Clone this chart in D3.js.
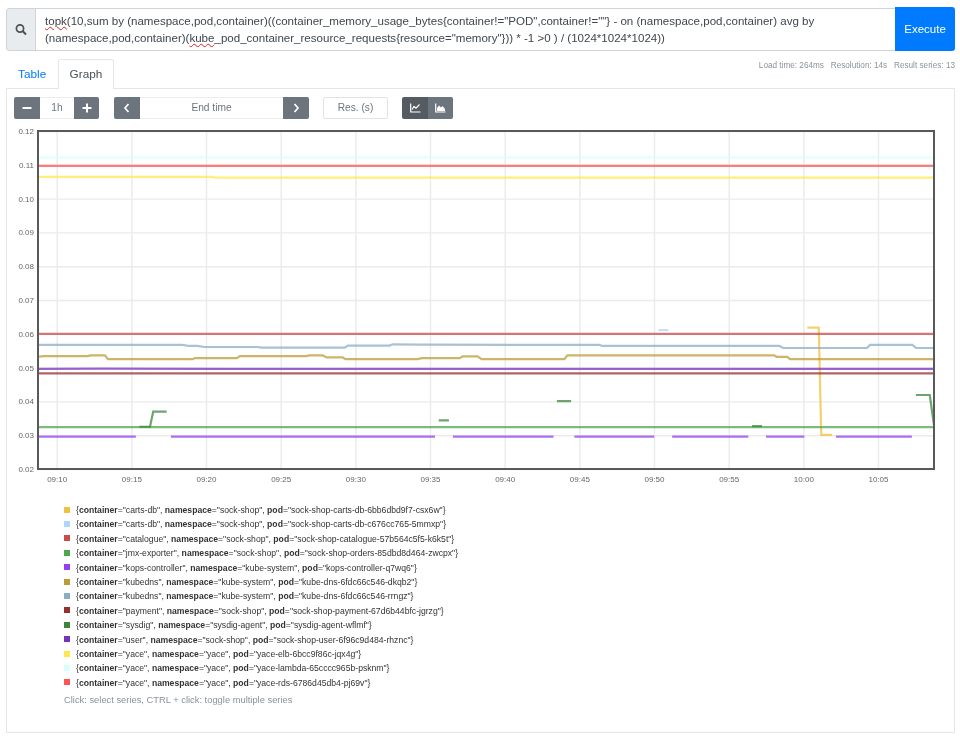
<!DOCTYPE html>
<html>
<head>
<meta charset="utf-8">
<script src="https://cdnjs.cloudflare.com/ajax/libs/d3/7.8.5/d3.min.js"></script>
<style>
  html, body { margin: 0; padding: 0; background: #fff; }
  body { width: 960px; height: 737px; overflow: hidden; position: relative; font-family: "Liberation Sans", sans-serif; filter: blur(0.3px); }
  .box { position: absolute; box-sizing: border-box; }
  .query { left: 35px; top: 8px; width: 861px; height: 43px; border: 1px solid #ced4da; border-left: 0; padding: 3.5px 0 0 10px; font-size: 11.55px; line-height: 17px; color: #3f464d; white-space: nowrap; }
  .query u { text-decoration: underline wavy #e02020 1px; text-underline-offset: 1px; }
  .btn { display: flex; align-items: center; justify-content: center; color: #fff; background: #6c757d; }
  .field { display: flex; align-items: center; justify-content: center; color: #6c757d; font-size: 10.2px; background: #fff; }
  .status { right: 5px; top: 61px; font-size: 8.2px; color: #8a9299; white-space: pre; }
  .legend { left: 63px; top: 503px; font-size: 8.64px; color: #333; }
  .legend div { height: 14.42px; line-height: 14.42px; white-space: pre; position: relative; padding-left: 13px; }
  .legend i { position: absolute; left: 1px; top: 3.6px; width: 6px; height: 6px; }
  #chart { position: absolute; left: 0; top: 0; }
  #chart text { font-family: "Liberation Sans", sans-serif; }
</style>
</head>
<body>
<div class="box" style="left:6px;top:88px;width:949px;height:645px;border:1px solid #e6e6e6"></div>
<div class="box" style="left:6px;top:8px;width:30px;height:43px;background:#e9ecef;border:1px solid #ced4da;border-radius:3px 0 0 3px">
  <svg width="28" height="41"><circle cx="13" cy="19.5" r="3.6" fill="none" stroke="#495057" stroke-width="1.7"/><path d="M15.8 22.3L19 25.5" stroke="#495057" stroke-width="2"/></svg>
</div>
<div class="box query"><u>topk</u>(10,sum by (namespace,pod,container)((container_memory_usage_bytes{container!="POD",container!=""} - on (namespace,pod,container) avg by<br>(namespace,pod,container)(<u>kube</u>_pod_container_resource_requests{resource="memory"})) * -1 &gt;0 ) / (1024*1024*1024))</div>
<div class="box btn" style="left:895px;top:7px;width:60px;height:44px;background:#007bff;border-radius:0 3px 3px 0;font-size:11.5px">Execute</div>
<div class="box" style="left:18px;top:66.5px;font-size:11.8px;color:#007bff">Table</div>
<div class="box" style="left:58px;top:59px;width:56px;height:30px;background:#fff;border:1px solid #e6e6e6;border-bottom:0;border-radius:3px 3px 0 0;font-size:11.8px;color:#495057;text-align:center;line-height:28px">Graph</div>
<div class="box status">Load time: 264ms   Resolution: 14s   Result series: 13</div>

<div class="box btn" style="left:14px;top:97px;width:26px;height:21.5px;border-radius:2px 0 0 2px"><svg width="10" height="10"><path d="M0.5 5H9.5" stroke="#fff" stroke-width="2"/></svg></div>
<div class="box field" style="left:40px;top:97px;width:34px;height:21.5px;border-top:1px solid #ececec;border-bottom:1px solid #ececec">1h</div>
<div class="box btn" style="left:74px;top:97px;width:25px;height:21.5px;border-radius:0 2px 2px 0"><svg width="10" height="10"><path d="M0.5 5H9.5M5 0.5V9.5" stroke="#fff" stroke-width="2"/></svg></div>
<div class="box btn" style="left:114px;top:97px;width:26px;height:21.5px;border-radius:2px 0 0 2px"><svg width="8" height="10"><path d="M5.5 1L2 5L5.5 9" fill="none" stroke="#fff" stroke-width="1.7"/></svg></div>
<div class="box field" style="left:140px;top:97px;width:143px;height:21.5px;border-top:1px solid #ececec;border-bottom:1px solid #ececec">End time</div>
<div class="box btn" style="left:283px;top:97px;width:26px;height:21.5px;border-radius:0 2px 2px 0"><svg width="8" height="10"><path d="M2.5 1L6 5L2.5 9" fill="none" stroke="#fff" stroke-width="1.7"/></svg></div>
<div class="box field" style="left:323px;top:97px;width:65px;height:21.5px;border:1px solid #e3e3e3;border-radius:2px">Res. (s)</div>
<div class="box btn" style="left:402px;top:97px;width:26px;height:21.5px;background:#545b62;border-radius:2px 0 0 2px"><svg width="11" height="10"><path d="M0.7 0.5V9H10.5" fill="none" stroke="#fff" stroke-width="1.2"/><path d="M2 6.5L4 3.5L6 5.2L9.5 1.5" fill="none" stroke="#fff" stroke-width="1.2"/></svg></div>
<div class="box btn" style="left:428px;top:97px;width:25px;height:21.5px;border-radius:0 2px 2px 0"><svg width="11" height="10"><path d="M0.7 0.5V9H10.5" fill="none" stroke="#fff" stroke-width="1.2"/><path d="M2 8V5L4 2.5L6 4.5L7.5 3L10 6V8Z" fill="#fff"/></svg></div>

<svg id="chart" width="960" height="737"></svg>
<div class="box legend" id="legend"></div>
<div class="box" style="left:64px;top:695px;font-size:9.35px;color:#8a9299">Click: select series, CTRL + click: toggle multiple series</div>

<script>
// legend
var containers = ["carts-db","carts-db","catalogue","jmx-exporter","kops-controller","kubedns","kubedns","payment","sysdig","user","yace","yace","yace"];
var namespaces = ["sock-shop","sock-shop","sock-shop","sock-shop","kube-system","kube-system","kube-system","sock-shop","sysdig-agent","sock-shop","yace","yace","yace"];
var pods = ["sock-shop-carts-db-6bb6dbd9f7-csx6w","sock-shop-carts-db-c676cc765-5mmxp","sock-shop-catalogue-57b564c5f5-k6k5t","sock-shop-orders-85dbd8d464-zwcpx","kops-controller-q7wq6","kube-dns-6fdc66c546-dkqb2","kube-dns-6fdc66c546-rrngz","sock-shop-payment-67d6b44bfc-jgrzg","sysdig-agent-wflmf","sock-shop-user-6f96c9d484-rhznc","yace-elb-6bcc9f86c-jqx4g","yace-lambda-65cccc965b-psknm","yace-rds-6786d45db4-pj69v"];
var colors = ["#edc240","#afd8f8","#cb4b4b","#4da74d","#9440ed","#bd9b33","#8cacc6","#982f2f","#3d853d","#7633bd","#ffe84c","#d8fffb","#ff5353"];

// series: [minutes after 09:00, value], null = gap in the line
var cartsDbA = [[60.27,0.0618],[61.04,0.0618],[61.2,0.0301],[61.92,0.0301]];
var cartsDbB = [[50.3,0.0611],[50.97,0.0611]];
var catalogue = [[8.76,0.06],[68.76,0.06]];
var jmxExporter = [[8.76,0.0324],[68.76,0.0324]];
var kopsController = [[8.76,0.0296],[15.3,0.0296],null,[17.66,0.0296],[35.34,0.0296],null,[36.54,0.0296],[43.28,0.0296],null,[44.68,0.0296],[50.03,0.0296],null,[51.22,0.0296],[56.32,0.0296],null,[57.5,0.0296],[60.07,0.0296],null,[62.19,0.0296],[67.27,0.0296]];
var kubednsDkqb2 = [[8.76,0.0532],[9.1,0.0534],[12.1,0.0534],[12.24,0.0536],[13.24,0.0536],[13.44,0.0525],[19.13,0.0525],[19.26,0.0528],[22.07,0.0528],[22.27,0.0534],[26.75,0.0534],[26.89,0.0536],[27.83,0.0536],[28.09,0.053],[29.16,0.053],[29.36,0.0525],[34.18,0.0525],[34.45,0.0528],[36.99,0.0528],[37.19,0.0533],[38.19,0.0533],[38.46,0.0525],[44.01,0.0525],[44.21,0.0536],[58.06,0.0536],[58.2,0.0532],[58.93,0.0532],[59.13,0.0525],[68.76,0.0525]];
var kubednsRrngz = [[8.76,0.0567],[18.4,0.0567],[18.9,0.0564],[19.4,0.0564],[19.9,0.0561],[23.48,0.0561],[23.7,0.0559],[29.3,0.0559],[29.5,0.0565],[32.3,0.0565],[32.5,0.0569],[34.3,0.0568],[46.35,0.0567],[46.55,0.0564],[58.4,0.0564],[58.66,0.0558],[64.28,0.0558],[64.48,0.0567],[67.3,0.0567],[67.55,0.0558],[68.76,0.0558]];
var payment = [[8.76,0.0483],[68.76,0.0483]];
var sysdig = [[15.54,0.0325],[16.25,0.0325],[16.47,0.037],[17.37,0.037],null,[35.59,0.0344],[36.27,0.0344],null,[43.5,0.0401],[44.46,0.0401],null,[56.57,0.0327],[57.24,0.0327],null,[67.54,0.0419],[68.47,0.0419],[68.76,0.033]];
var user = [[8.76,0.0496],[13,0.0497],[21,0.0496],[68.76,0.0496]];
var yaceElb = [[8.76,0.1064],[20.47,0.1064],[20.6,0.1062],[68.76,0.1062]];
var yaceLambda = [[8.76,0.1122],[68.76,0.1122]];
var yaceRds = [[8.76,0.1097],[68.76,0.1097]];
var allSeries = [cartsDbA,cartsDbB,catalogue,jmxExporter,kopsController,kubednsDkqb2,kubednsRrngz,payment,sysdig,user,yaceElb,yaceLambda,yaceRds];

var yTicks = [0.02,0.03,0.04,0.05,0.06,0.07,0.08,0.09,0.10,0.11,0.12];

var toDate = function(m) { return new Date(2020, 0, 1, 9, 0, m * 60); };

var margin = {top: 131, right: 26, bottom: 268, left: 38},
    width = 960 - margin.left - margin.right,
    height = 737 - margin.top - margin.bottom;

var x = d3.scaleTime().domain([toDate(8.76), toDate(68.76)]).range([0, width]);
var y = d3.scaleLinear().domain([0.02, 0.12]).range([height, 0]);

var svg = d3.select("#chart").append("g")
    .attr("transform", "translate(" + margin.left + "," + margin.top + ")");

// grid and tick labels
var xAxis = svg.append("g")
    .attr("transform", "translate(0," + height + ")")
    .call(d3.axisBottom(x).ticks(d3.timeMinute.every(5)).tickFormat(d3.timeFormat("%H:%M")).tickSize(-height).tickPadding(7));
var yAxis = svg.append("g")
    .call(d3.axisLeft(y).tickValues(yTicks).tickFormat(d3.format(".2f")).tickSize(-width).tickPadding(4));
svg.selectAll(".domain").remove();
svg.selectAll(".tick line").attr("stroke", "#ebebeb").attr("stroke-width", 1.4);
svg.selectAll(".tick text").attr("fill", "#666").attr("font-size", 8);

var line = d3.line()
    .defined(function(d) { return d !== null; })
    .x(function(d) { return x(toDate(d[0])); })
    .y(function(d) { return y(d[1]); });

svg.selectAll(".series")
    .data(allSeries)
    .enter().append("path")
    .attr("class", "series")
    .attr("fill", "none")
    .attr("stroke", function(d, i) { return colors[i]; })
    .attr("stroke-width", 2.2)
    .attr("stroke-opacity", 0.75)
    .attr("d", line);

svg.append("rect")
    .attr("width", width).attr("height", height)
    .attr("fill", "none").attr("stroke", "#595959").attr("stroke-width", 2);

// legend rows
var rows = d3.select("#legend").selectAll("div").data(containers).enter().append("div");
rows.append("i").style("background", function(d, i) { return colors[i]; });
rows.each(function(d, i) {
  var r = d3.select(this);
  r.append("span").text("{");
  r.append("b").text("container");
  r.append("span").text('="' + d + '", ');
  r.append("b").text("namespace");
  r.append("span").text('="' + namespaces[i] + '", ');
  r.append("b").text("pod");
  r.append("span").text('="' + pods[i] + '"}');
});
</script>
</body>
</html>
